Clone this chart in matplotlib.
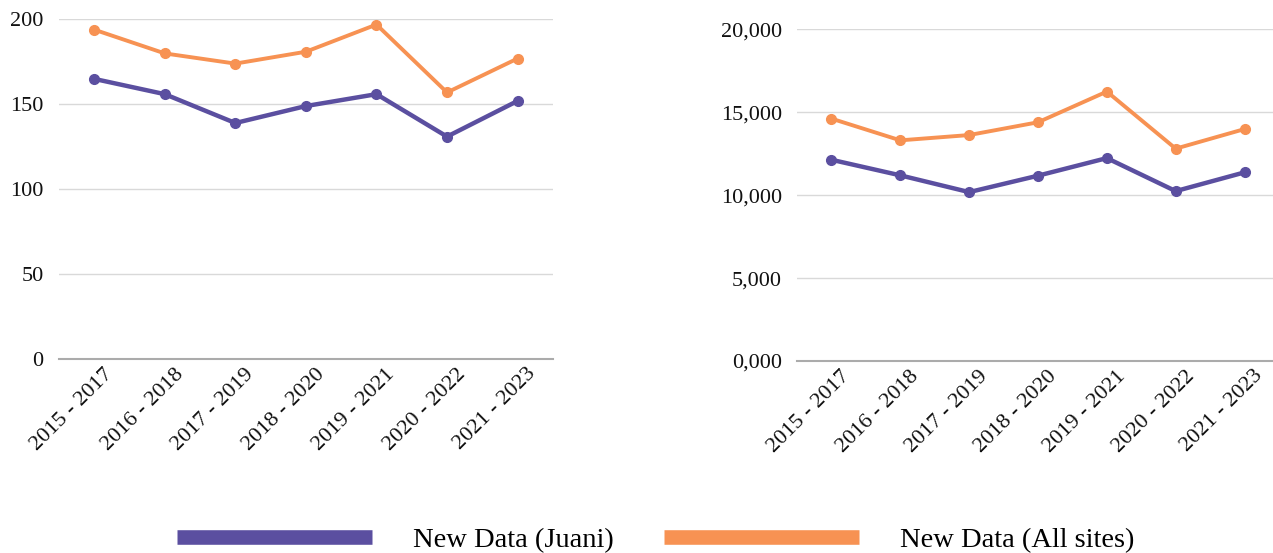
import matplotlib
matplotlib.use("Agg")
import matplotlib.pyplot as plt
import matplotlib.ticker as mticker
import matplotlib.transforms as mtransforms
from matplotlib.lines import Line2D
import numpy as np

plt.rcParams['font.family'] = ['Liberation Serif', 'DejaVu Serif']

# Rolling three-year periods
periods = ['2015 - 2017', '2016 - 2018', '2017 - 2019', '2018 - 2020',
           '2019 - 2021', '2020 - 2022', '2021 - 2023']

# Left panel: counts
juani_count = [165, 156, 139, 149, 156, 131, 152]
all_sites_count = [194, 180, 174, 181, 197, 157, 177]

# Right panel: totals
juani_total = [12130, 11190, 10180, 11170, 12230, 10240, 11370]
all_sites_total = [14610, 13300, 13620, 14390, 16240, 12800, 13980]

purple = '#5b4fa0'
orange = '#f79253'
grid_col = '#d9d9d9'
base_col = '#ababab'

fig = plt.figure(figsize=(12.73, 5.53), dpi=100)
ax1 = fig.add_axes([0.0463, 0.3508, 0.388, 0.614])
ax2 = fig.add_axes([0.6261, 0.3472, 0.3786, 0.600])


def style_axis(ax, ymax, step):
    x = np.arange(len(periods))
    ax.set_xlim(-0.5, len(periods) - 0.5)
    ax.set_ylim(0, ymax)
    ax.set_yticks(np.arange(0, ymax + 1, step))
    ax.grid(axis='y', color=grid_col, linewidth=1.0)
    ax.set_axisbelow(True)
    for s in ['top', 'right', 'left']:
        ax.spines[s].set_visible(False)
    ax.spines['bottom'].set_color(base_col)
    ax.spines['bottom'].set_linewidth(1.5)
    ax.tick_params(axis='both', length=0, labelsize=16, colors='#111111')
    ax.tick_params(axis='y', pad=11)
    ax.set_xticks(x)
    ax.set_xticklabels(periods, rotation=45, ha='right', rotation_mode='anchor')
    ax.tick_params(axis='x', pad=4)
    # nudge the slanted period labels to the right
    shift = mtransforms.ScaledTranslation(0.09, 0, fig.dpi_scale_trans)
    for lbl in ax.get_xticklabels():
        lbl.set_transform(lbl.get_transform() + shift)
    return x


x = style_axis(ax1, 200, 50)
ax1.plot(x, juani_count, color=purple, lw=3.2, marker='o', ms=7, zorder=3)
ax1.plot(x, all_sites_count, color=orange, lw=2.8, marker='o', ms=7, zorder=3)

x = style_axis(ax2, 20000, 5000)
ax2.yaxis.set_major_formatter(
    mticker.FuncFormatter(lambda v, p: '{:.3f}'.format(v / 1000).replace('.', ',')))
ax2.plot(x, juani_total, color=purple, lw=3.2, marker='o', ms=7, zorder=3)
ax2.plot(x, all_sites_total, color=orange, lw=2.8, marker='o', ms=7, zorder=3)
for ax in (ax1, ax2):
    for line in ax.get_lines():
        line.set_clip_on(False)

handles = [Line2D([], [], color=purple, lw=10.5, solid_capstyle='butt'),
           Line2D([], [], color=orange, lw=10.5, solid_capstyle='butt')]
fig.legend(handles, ['New Data (Juani)', 'New Data (All sites)'],
           loc='center', bbox_to_anchor=(0.515, 0.024), ncol=2, frameon=False,
           fontsize=20.5, handlelength=6.85, handletextpad=1.45, columnspacing=1.75)

fig.savefig('out.png', dpi=100)
